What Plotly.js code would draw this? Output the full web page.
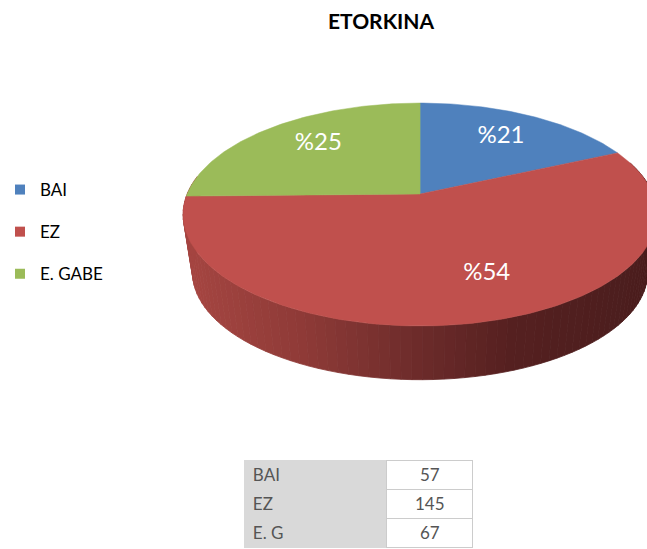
<!DOCTYPE html>
<html>
<head>
<meta charset="utf-8">
<script src="https://cdn.plot.ly/plotly-3.0.1.min.js"></script>
<style>html,body{margin:0;padding:0;background:#fff;}#chart{width:647px;height:549px;}</style>
</head>
<body>
<div id="chart"></div>
<script>
// ---- data ----
const chartTitle = 'ETORKINA';
const categories = ['BAI', 'EZ', 'E. GABE'];
const values = [57, 145, 67];
const tableLabels = ['BAI', 'EZ', 'E. G'];
const sliceColors = ['#4f81bd', '#c0504d', '#9bbb59'];

// ---- 3D pie geometry (layout constants, pixel-like axis units) ----
const CX = 419, CY = 194;      // apex of the top face
const A = 234, B = 107.7;      // horizontal / vertical radii
const K = 0.184;               // perspective factor
const DEPTH = 59, BOT_SCALE = 0.96;
const WARP_A = 5.4, WARP_B = 6.9; // mimic the office-style 3D angle distortion
const LABEL_R = 0.7;
const total = values.reduce((s, v) => s + v, 0);

function warp(tDeg) {
  const t = tDeg * Math.PI / 180;
  return tDeg + WARP_A * Math.cos(t) + WARP_B * (1 - Math.sin(t));
}

function proj(tDeg, r, bottom) {
  const t = warp(tDeg) * Math.PI / 180;
  const X = r * Math.cos(t), Z = r * Math.sin(t);
  const w = 1 + K * Z;
  const s = bottom ? BOT_SCALE : 1;
  const cy = bottom ? CY + DEPTH : CY;
  return [CX + s * A * X / w, cy - s * B * Z / w];
}

function lerpColor(f) {
  const stops = [[0, [165, 69, 65]], [0.25, [142, 58, 55]], [0.5, [108, 43, 42]], [0.7, [85, 32, 32]], [1, [74, 29, 29]]];
  f = Math.max(0, Math.min(1, f));
  for (let i = 1; i < stops.length; i++) {
    if (f <= stops[i][0]) {
      const a = stops[i - 1], b = stops[i];
      const u = (f - a[0]) / (b[0] - a[0]);
      const c = a[1].map((v, j) => Math.round(v + (b[1][j] - v) * u));
      return 'rgb(' + c.join(',') + ')';
    }
  }
  return 'rgb(74,29,29)';
}

const traces = [];

// slice angular extents (start at 12 o'clock, clockwise)
const extents = [];
let ang = 90;
values.forEach((v) => {
  const span = v / total * 360;
  extents.push([ang, ang - span]);
  ang -= span;
});

// side wall (front half), drawn as thin shaded strips
const STEP = 2;
for (let t = 170; t < 366; t += STEP) {
  const t2 = t + STEP;
  const p1 = proj(t, 1, false), p2 = proj(t2, 1, false);
  const q2 = proj(t2, 1, true), q1 = proj(t, 1, true);
  const f = ((p1[0] + p2[0]) / 2 - (CX - A)) / (2 * A);
  const col = lerpColor(f);
  traces.push({
    type: 'scatter', mode: 'lines', fill: 'toself', fillcolor: col,
    x: [p1[0], p2[0], q2[0], q1[0], p1[0]],
    y: [p1[1], p2[1], q2[1], q1[1], p1[1]],
    line: {color: col, width: 0.8}, showlegend: false, hoverinfo: 'skip'
  });
}

// top face slices
extents.forEach(([a0, a1], i) => {
  const xs = [CX], ys = [CY];
  const n = Math.max(2, Math.ceil(Math.abs(a0 - a1)));
  for (let k = 0; k <= n; k++) {
    const p = proj(a0 + (a1 - a0) * k / n, 1, false);
    xs.push(p[0]); ys.push(p[1]);
  }
  xs.push(CX); ys.push(CY);
  traces.push({
    type: 'scatter', mode: 'lines', fill: 'toself', fillcolor: sliceColors[i],
    x: xs, y: ys, line: {color: sliceColors[i], width: 0.5},
    name: categories[i], showlegend: false, hoverinfo: 'skip'
  });
});

// percentage labels
const lx = [], ly = [], lt = [];
extents.forEach(([a0, a1], i) => {
  const p = proj((a0 + a1) / 2, LABEL_R, false);
  lx.push(p[0]); ly.push(p[1]);
  lt.push('%' + Math.round(values[i] / total * 100));
});
traces.push({
  type: 'scatter', mode: 'text', x: lx, y: ly, text: lt,
  textposition: 'middle center',
  textfont: {family: 'Lato, Carlito, sans-serif', size: 24, color: '#ffffff'},
  showlegend: false, hoverinfo: 'skip'
});

// legend entries
categories.forEach((c, i) => {
  traces.push({
    type: 'scatter', mode: 'markers', x: [null], y: [null], name: c,
    legendgroup: 'g' + i,
    marker: {symbol: 'square', size: 10, color: sliceColors[i]},
    showlegend: true, hoverinfo: 'skip'
  });
});

// data table (first row is carried by the header so no empty header is drawn)
const tableFont = {family: 'Lato, Carlito, sans-serif', size: 17, color: '#555555'};
const tableFill = {color: ['#d9d9d9', '#ffffff']};
const tableLine = {color: ['#d9d9d9', '#cccccc'], width: 1};
traces.push({
  type: 'table',
  domain: {x: [243 / 647, 473 / 647], y: [0, 1 - 460 / 549]},
  columnwidth: [143, 87],
  header: {
    values: [tableLabels[0], String(values[0])],
    align: ['left', 'center'], height: 29,
    fill: tableFill, line: tableLine, font: tableFont
  },
  cells: {
    values: [tableLabels.slice(1), values.slice(1)],
    align: ['left', 'center'],
    height: 29,
    fill: tableFill, line: tableLine, font: tableFont
  }
});

const layout = {
  width: 647, height: 549,
  margin: {l: 0, r: 0, t: 0, b: 0},
  paper_bgcolor: '#ffffff', plot_bgcolor: 'rgba(0,0,0,0)',
  hovermode: false,
  title: {
    text: '<b>' + chartTitle + '</b>',
    x: 381 / 647, xanchor: 'center', y: 1 - 22 / 549, yanchor: 'middle',
    font: {family: 'Lato, Carlito, sans-serif', size: 21, color: '#000000'}
  },
  xaxis: {range: [0, 647], visible: false, fixedrange: true},
  yaxis: {range: [549, 0], visible: false, fixedrange: true},
  showlegend: true,
  legend: {
    x: -0.005, xanchor: 'left', y: 1 - 172 / 549, yanchor: 'top',
    traceorder: 'grouped', tracegroupgap: 17,
    font: {family: 'Lato, Carlito, sans-serif', size: 17, color: '#000000'},
    bgcolor: 'rgba(0,0,0,0)', itemwidth: 30
  }
};

Plotly.newPlot('chart', traces, layout, {displayModeBar: false, staticPlot: true});
</script>
</body>
</html>
